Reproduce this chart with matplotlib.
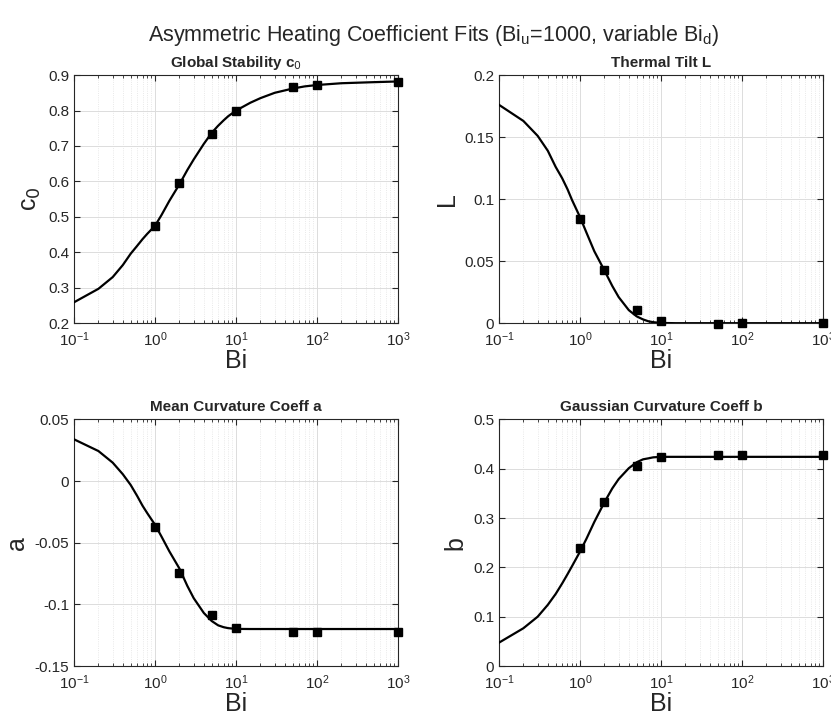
import numpy as np
import matplotlib.pyplot as plt
from matplotlib.ticker import LogLocator, NullFormatter

plt.rcParams['font.family'] = ['Liberation Sans', 'DejaVu Sans']

# sample points (squares)
bi_pts = [1, 2, 5, 10, 50, 100, 1000]
c0_pts = [0.473, 0.595, 0.735, 0.800, 0.865, 0.873, 0.881]
L_pts = [0.0843, 0.0428, 0.0105, 0.0020, -0.0003, 0.0000, 0.0005]
a_pts = [-0.0376, -0.0743, -0.1086, -0.1190, -0.1221, -0.1221, -0.1221]
b_pts = [0.240, 0.332, 0.405, 0.424, 0.4275, 0.427, 0.4275]

# fitted curve
bi_fit = [0.1, 0.2, 0.3, 0.4, 0.5, 0.6, 0.7, 0.8, 1, 1.2, 1.5, 2, 2.5, 3, 4, 5, 6, 7, 8, 10,
          15, 20, 30, 50, 70, 100, 200, 500, 1000]
c0_fit = [0.259, 0.297, 0.330, 0.364, 0.396, 0.418, 0.437, 0.452, 0.475, 0.505, 0.545, 0.592, 0.632, 0.662,
          0.706, 0.737, 0.757, 0.772, 0.784, 0.800, 0.822, 0.835, 0.850, 0.862, 0.868, 0.872, 0.877, 0.880, 0.882]
L_fit = [0.176, 0.163, 0.151, 0.139, 0.126, 0.117, 0.108, 0.099, 0.0855, 0.073, 0.058, 0.0425, 0.030, 0.021,
         0.0105, 0.0055, 0.003, 0.0015, 0.0008, 0.0002, 0.0, 0.0, 0.0, 0.0, 0.0, 0.0, 0.0, 0.0, 0.0]
a_fit = [0.0338, 0.0243, 0.0149, 0.0055, -0.0032, -0.012, -0.020, -0.026, -0.0355, -0.045, -0.057, -0.071,
         -0.085, -0.095, -0.107, -0.1135, -0.117, -0.1185, -0.1193, -0.1199, -0.1200, -0.1200, -0.1200,
         -0.1200, -0.1200, -0.1200, -0.1200, -0.1200, -0.1200]
b_fit = [0.0474, 0.0766, 0.100, 0.124, 0.146, 0.167, 0.186, 0.203, 0.232, 0.258, 0.292, 0.332, 0.360, 0.379,
         0.401, 0.413, 0.419, 0.421, 0.423, 0.424, 0.424, 0.424, 0.424, 0.424, 0.424, 0.424, 0.424, 0.424, 0.424]

panels = [
    ('Global Stability c$_0$', 'c$_0$', c0_fit, c0_pts, (0.2, 0.9), np.arange(0.2, 0.91, 0.1), '%.1f'),
    ('Thermal Tilt L', 'L', L_fit, L_pts, (0, 0.2), [0, 0.05, 0.1, 0.15, 0.2], None),
    ('Mean Curvature Coeff a', 'a', a_fit, a_pts, (-0.15, 0.05), [-0.15, -0.1, -0.05, 0, 0.05], None),
    ('Gaussian Curvature Coeff b', 'b', b_fit, b_pts, (0, 0.5), np.arange(0, 0.51, 0.1), None),
]
rects = [
    [0.0891, 0.548, 0.390, 0.347],
    [0.6005, 0.548, 0.390, 0.347],
    [0.0891, 0.0685, 0.390, 0.345],
    [0.6005, 0.0685, 0.390, 0.345],
]

ax_col = '#262626'
fig = plt.figure(figsize=(8.31, 7.15), dpi=100)
fig.suptitle('Asymmetric Heating Coefficient Fits (Bi$_\\mathregular{u}$=1000, variable Bi$_\\mathregular{d}$)',
             fontsize=15.5, x=0.522, y=0.968, color=ax_col)

for (title, ylab, fit, pts, ylim, yticks, fmt), r in zip(panels, rects):
    ax = fig.add_axes(r)
    ax.plot(bi_fit, fit, color='black', lw=1.6, zorder=3)
    ax.plot(bi_pts, pts, 's', color='black', ms=5.5, zorder=4, clip_on=False)
    ax.set_xscale('log')
    ax.set_xlim(0.1, 1000)
    ax.set_ylim(*ylim)
    ax.set_yticks(yticks)
    labels = []
    for v in yticks:
        if fmt:
            labels.append(fmt % v)
        else:
            labels.append('%g' % round(v, 3))
    ax.set_yticklabels(labels)
    ax.xaxis.set_major_locator(LogLocator(base=10, numticks=10))
    ax.xaxis.set_minor_locator(LogLocator(base=10, subs=np.arange(2, 10), numticks=10))
    ax.xaxis.set_minor_formatter(NullFormatter())
    ax.grid(True, which='major', color='#dcdcdc', lw=0.7, zorder=0)
    ax.grid(True, which='minor', axis='x', color='#e2e2e2', lw=0.6, ls=':', zorder=0)
    ax.tick_params(which='both', direction='in', top=True, right=True, colors=ax_col, labelsize=11)
    ax.tick_params(which='major', length=4)
    ax.tick_params(which='minor', length=2)
    ax.tick_params(axis='x', pad=5)
    for s in ax.spines.values():
        s.set_color(ax_col)
        s.set_linewidth(0.8)
    ax.set_title(title, fontsize=11, fontweight='bold', color=ax_col, pad=6)
    ax.set_xlabel('Bi', fontsize=18, color=ax_col, labelpad=0)
    ax.set_ylabel(ylab, fontsize=18, color=ax_col, labelpad=4)

fig.savefig('out.png', dpi=100)
